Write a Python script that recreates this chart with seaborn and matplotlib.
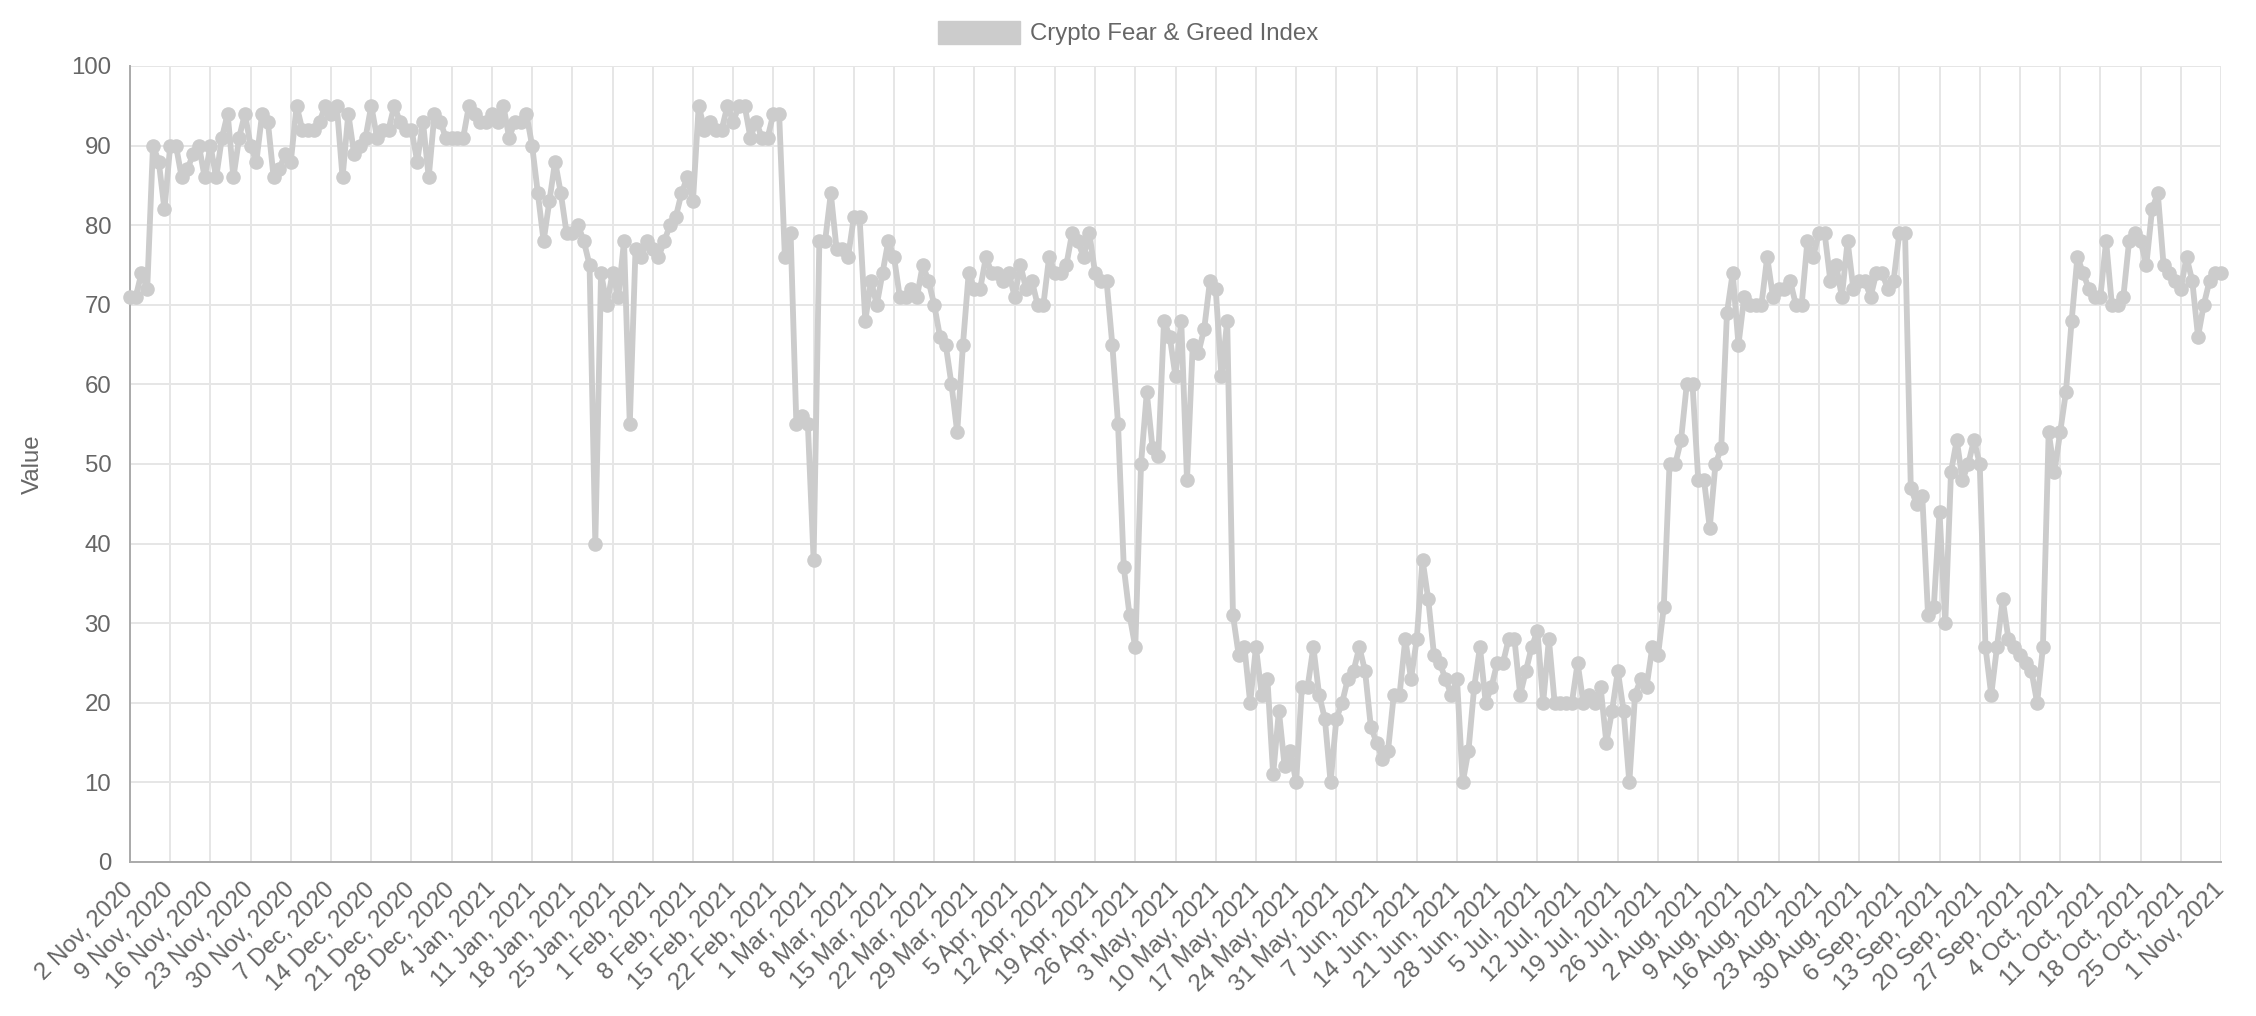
import numpy as np
import pandas as pd
import matplotlib
matplotlib.use("Agg")
import matplotlib.pyplot as plt
import seaborn as sns
from matplotlib.patches import Patch

# ---- data: daily Crypto Fear & Greed Index, 2 Nov 2020 .. 1 Nov 2021 ----
values_nov_dec = [71, 71, 74, 72, 90, 88, 82, 90, 90, 86, 87, 89, 90, 86, 90, 86, 91, 94, 86, 91,
                  94, 90, 88, 94, 93, 86, 87, 89, 88, 95, 92, 92, 92, 93,
                  95, 94, 95, 86, 94, 89, 90, 91, 95, 91, 92, 92, 95, 93, 92, 92, 88, 93, 86, 94,
                  93, 91, 91, 91, 91, 95, 94, 93, 93, 94, 93, 95, 91]
values_jan_feb = [93, 93, 94, 90, 84, 78, 83, 88, 84, 79, 79, 80, 78, 75, 40, 74, 70, 74, 71, 78,
                  55, 77, 76, 78, 77, 76, 78, 80, 81, 84, 86, 83, 95,
                  92, 93, 92, 92, 95, 93, 95, 95, 91, 93, 91, 91, 94, 94, 76, 79, 55, 56, 55, 38,
                  78, 78, 84, 77, 77, 76, 81, 81, 68, 73, 70, 74, 78]
values_mar_apr = [76, 71, 71, 72, 71, 75, 73, 70, 66, 65, 60, 54, 65, 74, 72, 72, 76, 74, 74, 73,
                  74, 71, 75, 72, 73, 70, 70, 76, 74, 74, 75, 79, 78,
                  76, 79, 74, 73, 73, 65, 55, 37, 31, 27, 50, 59, 52, 51, 68, 66, 61, 68, 48, 65,
                  64, 67, 73, 72, 61, 68, 31, 26, 27, 20, 27, 21, 23]
values_may_jul = [11, 19, 12, 14, 10, 22, 22, 27, 21, 18, 10, 18, 20, 23, 24, 27, 24, 17, 15, 13,
                  14, 21, 21, 28, 23, 28, 38, 33, 26, 25, 23, 21, 23,
                  10, 14, 22, 27, 20, 22, 25, 25, 28, 28, 21, 24, 27, 29, 20, 28, 20, 20, 20, 20,
                  25, 20, 21, 20, 22, 15, 19, 24, 19, 10, 21, 23, 22]
values_aug_sep = [27, 26, 32, 50, 50, 53, 60, 60, 48, 48, 42, 50, 52, 69, 74, 65, 71, 70, 70, 70,
                  76, 71, 72, 72, 73, 70, 70, 78, 76, 79, 79, 73, 75,
                  71, 78, 72, 73, 73, 71, 74, 74, 72, 73, 79, 79, 47, 45, 46, 31, 32, 44, 30, 49,
                  53, 48, 50, 53, 50, 27, 21, 27, 33, 28, 27, 26, 25]
values_oct_nov = [24, 20, 27, 54, 49, 54, 59, 68, 76, 74, 72, 71, 71, 78, 70, 70, 71, 78, 79, 78,
                  75, 82, 84, 75, 74, 73, 72, 76, 73, 66, 70, 73, 74, 74]

values = (values_nov_dec + values_jan_feb + values_mar_apr
          + values_may_jul + values_aug_sep + values_oct_nov)

tick_labels = ["2 Nov, 2020", "9 Nov, 2020", "16 Nov, 2020", "23 Nov, 2020", "30 Nov, 2020",
               "7 Dec, 2020", "14 Dec, 2020", "21 Dec, 2020", "28 Dec, 2020",
               "4 Jan, 2021", "11 Jan, 2021", "18 Jan, 2021", "25 Jan, 2021",
               "1 Feb, 2021", "8 Feb, 2021", "15 Feb, 2021", "22 Feb, 2021",
               "1 Mar, 2021", "8 Mar, 2021", "15 Mar, 2021", "22 Mar, 2021", "29 Mar, 2021",
               "5 Apr, 2021", "12 Apr, 2021", "19 Apr, 2021", "26 Apr, 2021",
               "3 May, 2021", "10 May, 2021", "17 May, 2021", "24 May, 2021", "31 May, 2021",
               "7 Jun, 2021", "14 Jun, 2021", "21 Jun, 2021", "28 Jun, 2021",
               "5 Jul, 2021", "12 Jul, 2021", "19 Jul, 2021", "26 Jul, 2021",
               "2 Aug, 2021", "9 Aug, 2021", "16 Aug, 2021", "23 Aug, 2021", "30 Aug, 2021",
               "6 Sep, 2021", "13 Sep, 2021", "20 Sep, 2021", "27 Sep, 2021",
               "4 Oct, 2021", "11 Oct, 2021", "18 Oct, 2021", "25 Oct, 2021", "1 Nov, 2021"]
tick_every = 7
y_ticks = [0, 10, 20, 30, 40, 50, 60, 70, 80, 90, 100]
series_name = "Crypto Fear & Greed Index"
y_title = "Value"

# ---- styling ----
sns.set_theme(style="white")
plt.rcParams['font.family'] = ['Liberation Sans', 'DejaVu Sans']

LINE = "#cccccc"
TEXT = "#666666"
GRID = "#e6e6e6"
AXIS = "#aaaaaa"
FS = 17.3

df = pd.DataFrame({"day": np.arange(len(values)), "value": values})

fig = plt.figure(figsize=(22.56, 10.16), dpi=100)
ax = fig.add_axes([130 / 2256, 1 - 862 / 1016, (2221 - 130) / 2256, (862 - 66) / 1016])

sns.lineplot(data=df, x="day", y="value", ax=ax, color=LINE, linewidth=4.2,
             marker="o", markersize=10.5, markeredgewidth=0, markerfacecolor=LINE,
             clip_on=False, legend=False, zorder=3)

n = len(values)
ax.set_xlim(0, n - 1)
ax.set_ylim(0, 100)
ax.set_xticks(np.arange(0, n, tick_every))
ax.set_xticklabels(tick_labels, rotation=45, ha="right", va="center",
                   rotation_mode="anchor")
ax.set_yticks(y_ticks)
ax.set_yticklabels([str(v) for v in y_ticks])

ax.set_axisbelow(True)
ax.grid(True, color=GRID, linewidth=1.4)
ax.tick_params(axis="both", length=11.5, width=1.4, color=GRID,
               labelcolor=TEXT, labelsize=FS)
ax.tick_params(axis="y", pad=2)
ax.tick_params(axis="x", pad=6)

for s in ["top", "right"]:
    ax.spines[s].set_visible(False)
for s in ["left", "bottom"]:
    ax.spines[s].set_color(AXIS)
    ax.spines[s].set_linewidth(1.4)

ax.set_xlabel("")
ax.set_ylabel(y_title, color=TEXT, fontsize=FS)
ax.yaxis.set_label_coords(-0.041, 0.5)

handles = [Patch(facecolor=LINE, edgecolor=LINE, label=series_name)]
fig.legend(handles=handles, loc="center", bbox_to_anchor=(0.5, 1 - 33 / 1016),
           frameon=False, fontsize=FS, labelcolor=TEXT,
           handlelength=3.4, handleheight=1.1, handletextpad=0.4)

fig.savefig("out.png", dpi=100)
